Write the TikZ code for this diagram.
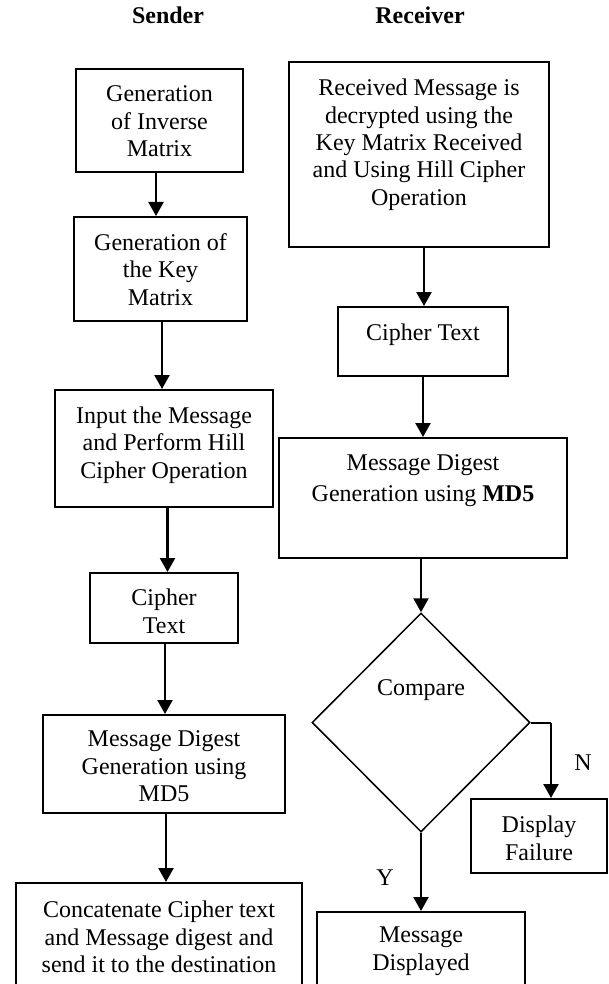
\documentclass[tikz,border=0pt]{standalone}
\usepackage{fontspec}
\setmainfont{Liberation Serif}
\usetikzlibrary{arrows.meta,shapes.geometric,calc}
\tikzset{
  box/.style={draw, line width=2pt, inner sep=0pt, rectangle},
  txt/.style={align=center, inner sep=0pt, anchor=north, font=\fontsize{24}{27.4}\selectfont},
  lbl/.style={inner sep=0pt, anchor=base, font=\fontsize{24}{27.4}\selectfont},
  arr/.style={line width=2.4pt, -{Triangle[length=14pt,width=15pt]}},
  dec/.style={draw, diamond, line width=1.5pt, inner sep=0pt, aspect=1},
}
\begin{document}
\begin{tikzpicture}[x=1pt,y=-1pt]
\useasboundingbox (0,0) rectangle (608,984);
\clip (0,0) rectangle (608,984);
% titles
\node[lbl, font=\fontsize{24}{27.4}\selectfont\bfseries] (ts) at (168,24) {Sender};
\node[lbl, font=\fontsize{24}{27.4}\selectfont\bfseries] (tr) at (420,24) {Receiver};
% sender boxes
\node[box, minimum width=167pt, minimum height=103pt] (A) at (159.5,120.5) {};
\node[box, minimum width=173pt, minimum height=104pt] (B) at (160.5,269) {};
\node[box, minimum width=218pt, minimum height=117pt] (C) at (164,448.5) {};
\node[box, minimum width=148pt, minimum height=70pt] (D) at (164,608) {};
\node[box, minimum width=242pt, minimum height=98pt] (E) at (164,764) {};
\node[box, minimum width=286pt, minimum height=117pt] (F) at (159,941.5) {};
\node[txt] (tA) at (159.5,85.8) {Generation\\of Inverse\\Matrix};
\node[txt] (tB) at (160.5,233.3) {Generation of\\the Key\\Matrix};
\node[txt] (tC) at (164,406.5) {Input the Message\\and Perform Hill\\Cipher Operation};
\node[txt] (tD) at (164,588.8) {Cipher\\Text};
\node[txt] (tE) at (164,730.8) {Message Digest\\Generation using\\MD5};
\node[txt] (tF) at (159,900.8) {Concatenate Cipher text\\and Message digest and\\send it to the destination};
% receiver boxes
\node[box, minimum width=260pt, minimum height=185pt] (R1) at (419,154.5) {};
\node[box, minimum width=170pt, minimum height=69pt] (R2) at (423,341.5) {};
\node[box, minimum width=288pt, minimum height=120pt] (R3) at (423,498) {};
\node[dec, minimum width=218pt, minimum height=219pt] (dia) at (421,722.5) {};
\node[box, minimum width=136pt, minimum height=74pt] (DF) at (539,836) {};
\node[box, minimum width=208pt, minimum height=88pt] (MD) at (421,956) {};
\node[txt] (tR1) at (419,78.8) {Received Message is\\decrypted using the\\Key Matrix Received\\and Using Hill Cipher\\Operation};
\node[lbl] (tR2) at (423,340) {Cipher Text};
\node[txt] (tR3) at (423,454.8) {Message Digest\\[3pt]Generation using \textbf{MD5}};
\node[lbl] (tcmp) at (421,695) {Compare};
\node[txt] (tDF) at (539,815.8) {Display\\Failure};
\node[txt] (tMD) at (421,926.8) {Message\\Displayed};
\node[lbl] (tN) at (583,770) {N};
\node[lbl] (tY) at (385,885) {Y};
% sender connectors
\draw[arr] ($(A.south)+(-3.5,0)$) -- ($(A.south |- B.north)+(-3.5,0)$);
\draw[arr] ($(B.south)+(1.5,0)$) -- ($(B.south |- C.north)+(1.5,0)$);
\draw[arr] ($(C.south)+(3.5,0)$) -- ($(C.south |- D.north)+(3.5,0)$);
\draw[arr] ($(D.south)+(1,0)$) -- ($(D.south |- E.north)+(1,0)$);
\draw[arr] ($(E.south)+(2,0)$) -- ($(E.south |- F.north)+(2,0)$);
% receiver connectors
\draw[arr] ($(R2.north |- R1.south)+(1,0)$) -- ($(R2.north)+(1,0)$);
\draw[arr] (R2.south) -- (R3.north);
\draw[arr] (dia.north |- R3.south) -- (dia.north);
\coordinate (nk) at (551,722.5);
\draw[line width=2pt] (dia.east) -- (nk);
\draw[arr] (nk) -- (nk |- DF.north);
\draw[arr] (dia.south) -- (dia.south |- MD.north);
\end{tikzpicture}
\end{document}
